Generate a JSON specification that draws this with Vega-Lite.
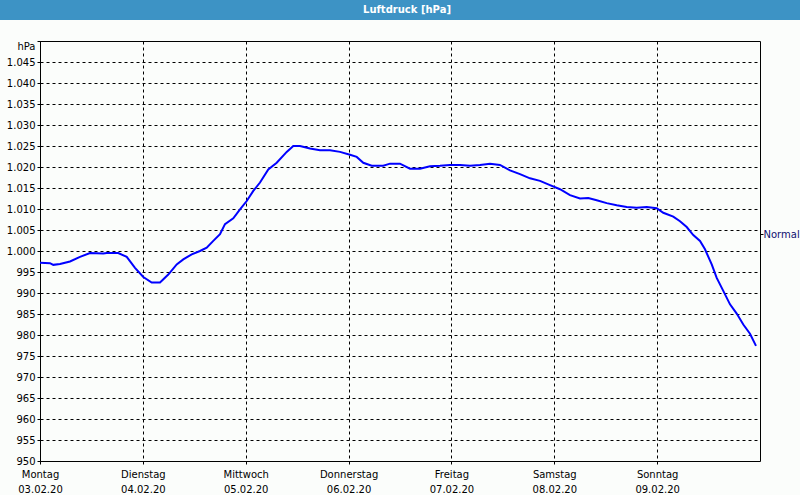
{
  "$schema": "https://vega.github.io/schema/vega-lite/v6.json",
  "background": "#fbfdfb",
  "padding": {"left": -10, "right": -10, "top": 0, "bottom": 0},
  "spacing": 20,
  "columns": 1,
  "align": "none",
  "config": {"view": {"stroke": null}, "font": "DejaVu Sans"},
  "concat": [
    {
      "width": 720,
      "height": 20,
      "view": {"fill": "#3d93c5", "stroke": null},
      "data": {"values": [{"title": "Luftdruck [hPa]", "pos": 0}]},
      "encoding": {
        "text": {"field": "title", "type": "nominal"}
      },
      "layer": [
        {
          "mark": {"type": "text", "color": "white", "fontWeight": "bold", "fontSize": 10, "font": "DejaVu Sans", "dx": 7},
          "encoding": {
            "y": {
              "field": "pos",
              "type": "quantitative",
              "scale": {"domain": [-1, 1]},
              "axis": {"orient": "left", "title": null, "domain": false, "grid": false, "labels": false, "values": [0], "tickSize": 42, "tickWidth": 20, "tickColor": "#3d93c5", "tickOpacity": 1, "offset": -2, "translate": 0}
            }
          }
        },
        {
          "mark": {"type": "text", "opacity": 0},
          "encoding": {
            "y": {
              "field": "pos",
              "type": "quantitative",
              "axis": {"orient": "right", "title": null, "domain": false, "grid": false, "labels": false, "values": [0], "tickSize": 42, "tickWidth": 20, "tickColor": "#3d93c5", "tickOpacity": 1, "offset": -2, "translate": 0}
            }
          }
        }
      ],
      "resolve": {"axis": {"y": "independent"}}
    },
    {
      "width": 720,
      "height": 420,
      "view": {"stroke": "black", "strokeWidth": 1, "fill": null},
      "data": {"values": [
        {"time": "2020-02-03T00:00:00Z", "hPa": 997.2},
        {"time": "2020-02-03T02:20:00Z", "hPa": 997.1},
        {"time": "2020-02-03T03:06:00Z", "hPa": 996.7},
        {"time": "2020-02-03T04:40:00Z", "hPa": 996.9},
        {"time": "2020-02-03T07:00:00Z", "hPa": 997.5},
        {"time": "2020-02-03T09:20:00Z", "hPa": 998.6},
        {"time": "2020-02-03T11:40:00Z", "hPa": 999.5},
        {"time": "2020-02-03T14:46:00Z", "hPa": 999.4},
        {"time": "2020-02-03T15:34:00Z", "hPa": 999.5},
        {"time": "2020-02-03T18:16:00Z", "hPa": 999.5},
        {"time": "2020-02-03T20:14:00Z", "hPa": 998.6},
        {"time": "2020-02-03T22:10:00Z", "hPa": 996.0},
        {"time": "2020-02-04T00:06:00Z", "hPa": 993.8},
        {"time": "2020-02-04T02:04:00Z", "hPa": 992.5},
        {"time": "2020-02-04T04:00:00Z", "hPa": 992.5},
        {"time": "2020-02-04T05:56:00Z", "hPa": 994.4},
        {"time": "2020-02-04T07:54:00Z", "hPa": 996.8},
        {"time": "2020-02-04T09:26:00Z", "hPa": 998.0},
        {"time": "2020-02-04T11:24:00Z", "hPa": 999.2},
        {"time": "2020-02-04T13:20:00Z", "hPa": 1000.0},
        {"time": "2020-02-04T14:54:00Z", "hPa": 1000.8},
        {"time": "2020-02-04T16:26:00Z", "hPa": 1002.4},
        {"time": "2020-02-04T18:00:00Z", "hPa": 1004.0},
        {"time": "2020-02-04T19:10:00Z", "hPa": 1006.4},
        {"time": "2020-02-04T21:06:00Z", "hPa": 1007.8},
        {"time": "2020-02-04T22:40:00Z", "hPa": 1009.9},
        {"time": "2020-02-05T00:14:00Z", "hPa": 1011.9},
        {"time": "2020-02-05T01:46:00Z", "hPa": 1014.3},
        {"time": "2020-02-05T03:20:00Z", "hPa": 1016.3},
        {"time": "2020-02-05T05:16:00Z", "hPa": 1019.4},
        {"time": "2020-02-05T07:14:00Z", "hPa": 1021.0},
        {"time": "2020-02-05T09:34:00Z", "hPa": 1023.6},
        {"time": "2020-02-05T11:06:00Z", "hPa": 1025.0},
        {"time": "2020-02-05T12:40:00Z", "hPa": 1025.0},
        {"time": "2020-02-05T15:00:00Z", "hPa": 1024.4},
        {"time": "2020-02-05T17:20:00Z", "hPa": 1024.0},
        {"time": "2020-02-05T19:40:00Z", "hPa": 1024.0},
        {"time": "2020-02-05T22:00:00Z", "hPa": 1023.6},
        {"time": "2020-02-06T00:20:00Z", "hPa": 1022.9},
        {"time": "2020-02-06T01:54:00Z", "hPa": 1022.4},
        {"time": "2020-02-06T03:26:00Z", "hPa": 1021.0},
        {"time": "2020-02-06T05:24:00Z", "hPa": 1020.3},
        {"time": "2020-02-06T08:06:00Z", "hPa": 1020.3},
        {"time": "2020-02-06T09:40:00Z", "hPa": 1020.8},
        {"time": "2020-02-06T12:00:00Z", "hPa": 1020.8},
        {"time": "2020-02-06T14:20:00Z", "hPa": 1019.6},
        {"time": "2020-02-06T16:40:00Z", "hPa": 1019.6},
        {"time": "2020-02-06T19:00:00Z", "hPa": 1020.2},
        {"time": "2020-02-06T21:20:00Z", "hPa": 1020.3},
        {"time": "2020-02-06T23:40:00Z", "hPa": 1020.5},
        {"time": "2020-02-07T02:00:00Z", "hPa": 1020.5},
        {"time": "2020-02-07T04:20:00Z", "hPa": 1020.3},
        {"time": "2020-02-07T06:40:00Z", "hPa": 1020.5},
        {"time": "2020-02-07T09:00:00Z", "hPa": 1020.8},
        {"time": "2020-02-07T11:20:00Z", "hPa": 1020.5},
        {"time": "2020-02-07T13:40:00Z", "hPa": 1019.2},
        {"time": "2020-02-07T16:00:00Z", "hPa": 1018.3},
        {"time": "2020-02-07T18:20:00Z", "hPa": 1017.3},
        {"time": "2020-02-07T20:40:00Z", "hPa": 1016.7},
        {"time": "2020-02-07T23:00:00Z", "hPa": 1015.7},
        {"time": "2020-02-08T01:20:00Z", "hPa": 1014.7},
        {"time": "2020-02-08T03:40:00Z", "hPa": 1013.3},
        {"time": "2020-02-08T06:00:00Z", "hPa": 1012.5},
        {"time": "2020-02-08T07:56:00Z", "hPa": 1012.6},
        {"time": "2020-02-08T09:54:00Z", "hPa": 1012.1},
        {"time": "2020-02-08T12:14:00Z", "hPa": 1011.4},
        {"time": "2020-02-08T14:34:00Z", "hPa": 1010.9},
        {"time": "2020-02-08T16:54:00Z", "hPa": 1010.5},
        {"time": "2020-02-08T19:14:00Z", "hPa": 1010.3},
        {"time": "2020-02-08T21:34:00Z", "hPa": 1010.5},
        {"time": "2020-02-08T23:54:00Z", "hPa": 1010.2},
        {"time": "2020-02-09T01:26:00Z", "hPa": 1009.1},
        {"time": "2020-02-09T03:46:00Z", "hPa": 1008.2},
        {"time": "2020-02-09T05:20:00Z", "hPa": 1007.1},
        {"time": "2020-02-09T06:54:00Z", "hPa": 1005.7},
        {"time": "2020-02-09T08:26:00Z", "hPa": 1003.8},
        {"time": "2020-02-09T10:00:00Z", "hPa": 1002.4},
        {"time": "2020-02-09T11:10:00Z", "hPa": 1000.4},
        {"time": "2020-02-09T12:44:00Z", "hPa": 996.8},
        {"time": "2020-02-09T13:54:00Z", "hPa": 993.6},
        {"time": "2020-02-09T15:26:00Z", "hPa": 990.5},
        {"time": "2020-02-09T17:00:00Z", "hPa": 987.3},
        {"time": "2020-02-09T18:34:00Z", "hPa": 985.1},
        {"time": "2020-02-09T20:06:00Z", "hPa": 982.5},
        {"time": "2020-02-09T21:40:00Z", "hPa": 980.3},
        {"time": "2020-02-09T23:04:00Z", "hPa": 977.4}
      ]},
      "encoding": {
        "x": {
          "field": "time",
          "type": "temporal",
          "scale": {"type": "utc", "domain": [{"year": 2020, "month": 2, "date": 3, "utc": true}, {"year": 2020, "month": 2, "date": 10, "utc": true}]},
          "axis": {
            "title": null,
            "domain": false,
            "values": [
              {"year": 2020, "month": 2, "date": 3, "utc": true},
              {"year": 2020, "month": 2, "date": 4, "utc": true},
              {"year": 2020, "month": 2, "date": 5, "utc": true},
              {"year": 2020, "month": 2, "date": 6, "utc": true},
              {"year": 2020, "month": 2, "date": 7, "utc": true},
              {"year": 2020, "month": 2, "date": 8, "utc": true},
              {"year": 2020, "month": 2, "date": 9, "utc": true}
            ],
            "labelExpr": "[['Sonntag','Montag','Dienstag','Mittwoch','Donnerstag','Freitag','Samstag'][utcday(datum.value)], utcFormat(datum.value, '%d.%m.%y')]",
            "labelFlush": false,
            "labelOverlap": false,
            "labelAlign": "center",
            "labelBaseline": "top",
            "labelPadding": 5,
            "labelLineHeight": 15,
            "labelFont": "DejaVu Sans",
            "labelFontSize": 10,
            "labelColor": "#000000",
            "grid": true,
            "gridColor": "#000000",
            "gridOpacity": 1,
            "gridDash": [3, 3],
            "gridWidth": 1,
            "ticks": true,
            "tickSize": 3,
            "tickColor": "#000000"
          }
        }
      },
      "layer": [
        {
          "mark": {"type": "line", "color": "#0000ff", "strokeWidth": 2},
          "encoding": {
            "y": {
              "field": "hPa",
              "type": "quantitative",
              "scale": {"domain": [950, 1050], "nice": false, "zero": false},
              "axis": {
                "title": null,
                "domain": false,
                "values": [950, 955, 960, 965, 970, 975, 980, 985, 990, 995, 1000, 1005, 1010, 1015, 1020, 1025, 1030, 1035, 1040, 1045, 1050],
                "labelExpr": "datum.value == 1050 ? 'hPa' : replace(format(datum.value, ','), ',', '.')",
                "labelBaseline": {"condition": {"test": "datum.value == 1050", "value": "top"}, "value": "middle"},
                "labelOverlap": false,
                "labelFlush": false,
                "labelPadding": 2,
                "labelFont": "DejaVu Sans",
                "labelFontSize": 10,
                "labelColor": "#000000",
                "grid": true,
                "gridColor": "#000000",
                "gridOpacity": 1,
                "gridDash": [3, 3],
                "gridWidth": 1,
                "tickSize": 3,
                "tickColor": "#000000",
                "minExtent": 40,
                "maxExtent": 40
              }
            }
          }
        },
        {
          "mark": {"type": "line", "opacity": 0},
          "encoding": {
            "y": {
              "field": "hPa",
              "type": "quantitative",
              "axis": {
                "orient": "right",
                "title": null,
                "domain": false,
                "grid": false,
                "values": [1004],
                "labelExpr": "'Normal'",
                "labelPadding": 0,
                "labelFont": "DejaVu Sans",
                "labelFontSize": 10,
                "labelColor": "#101070",
                "tickSize": 3,
                "tickColor": "#000000"
              }
            }
          }
        }
      ],
      "resolve": {"axis": {"y": "independent"}}
    }
  ]
}
